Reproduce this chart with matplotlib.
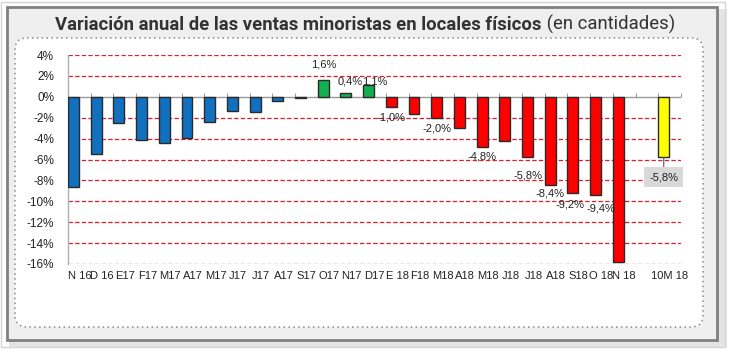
import matplotlib
matplotlib.use('Agg')
import matplotlib.pyplot as plt
import numpy as np
from matplotlib.patches import FancyBboxPatch, Rectangle

# ---------------- data ----------------
categories = ['N 16', 'D 16', 'E17', 'F17', 'M17', 'A17', 'M17', 'J17', 'J17', 'A17',
              'S17', 'O17', 'N17', 'D17', 'E 18', 'F18', 'M18', 'A18', 'M18', 'J18',
              'J18', 'A18', 'S18', 'O 18', 'N 18', '', '10M 18']
values = [-8.6, -5.5, -2.5, -4.1, -4.4, -3.9, -2.4, -1.4, -1.5, -0.4,
          -0.15, 1.6, 0.4, 1.1, -1.0, -1.6, -2.0, -3.0, -4.8, -4.2,
          -5.8, -8.4, -9.2, -9.4, -15.8, None, -5.8]
labeled_idx = [11, 12, 13, 14, 16, 18, 20, 21, 22, 23]
summary_idx = 26
yticks = list(range(4, -17, -2))

# ---------------- style ----------------
BLUE, GREEN, RED, YELLOW = '#1170C0', '#14B050', '#FF0000', '#FFFF00'
bar_colors = [BLUE] * 11 + [GREEN] * 3 + [RED] * 11 + [None] + [YELLOW]
# label offsets in pixels (dx, dy)
label_off = {11: (1, 16), 12: (4, 11), 13: (6, 4), 14: (0, -10), 16: (0, -11),
             18: (0, -10), 20: (0, -18), 21: (0, -9), 22: (-3, -12), 23: (5, -13)}

W, H = 729, 351
fig = plt.figure(figsize=(W / 100, H / 100), dpi=100)
fig.patch.set_facecolor('white')

# background / frame axes in pixel coordinates
bg = fig.add_axes([0, 0, 1, 1], zorder=0)
bg.set_xlim(0, W)
bg.set_ylim(H, 0)
bg.axis('off')
bg.add_patch(Rectangle((9, 9), 718, 338, facecolor='#e4e4e4', edgecolor='none'))
bg.add_patch(Rectangle((1.5, 1.5), 724, 345, facecolor='none', edgecolor='#d6d6d6', lw=1))
bg.add_patch(Rectangle((7, 7), 710, 333, facecolor='#efefef', edgecolor='#808080', lw=2))
bg.add_patch(FancyBboxPatch((15, 38), 688, 289, boxstyle='round,pad=0,rounding_size=12',
                            facecolor='white', edgecolor='#8a8a8a', lw=1.1,
                            linestyle=(0, (1, 2.2))))

# title (bold + regular parts)
title_family = ['Liberation Sans Narrow', 'Roboto', 'DejaVu Sans']
t1 = bg.text(0, 24.5, 'Variación anual de las ventas minoristas en locales físicos',
             fontsize=13.3, fontweight='bold', color='#333333', family=title_family,
             va='center', ha='left')
t2 = bg.text(0, 24.5, ' (en cantidades)', fontsize=13.3, color='#333333',
             family=title_family, va='center', ha='left')
fig.canvas.draw()
r = fig.canvas.get_renderer()
w1 = t1.get_window_extent(r).width
w2 = t2.get_window_extent(r).width
x0 = 365 - (w1 + w2) / 2
t1.set_x(x0)
t2.set_x(x0 + w1)

# ---------------- chart ----------------
ax = fig.add_axes([68 / W, 1 - 264 / H, 613 / W, 209 / H], zorder=2)
ax.patch.set_visible(False)
n = len(categories)
x = np.arange(n)
ax.set_xlim(-0.5, n - 0.5)
ax.set_ylim(-16, 4)

bw = 0.48
for i, v in enumerate(values):
    if v is None:
        continue
    ax.bar(x[i] - 0.5, v, width=bw, align='edge', color=bar_colors[i],
           edgecolor='#2a2a2a', linewidth=1.0, zorder=3)

# gridlines
for yt in yticks:
    if yt == 0:
        continue
    ax.axhline(yt, color='#dc1f2a', lw=0.9, ls=(0, (3.5, 1.8)), zorder=1)
ax.axhline(0, color='#9a9a9a', lw=1.0, zorder=2)

ax.set_yticks(yticks)
ax.set_yticklabels([f'{t}%' for t in yticks], fontsize=8.5, color='#222222',
                   family=['Liberation Sans', 'DejaVu Sans'])
ax.set_xticks(x)
ax.set_xticklabels(categories, fontsize=8, color='#222222',
                   family=['Liberation Sans', 'DejaVu Sans'])
ax.tick_params(axis='x', length=0, pad=5)
ax.tick_params(axis='y', length=0, pad=10)
for s in ['top', 'right', 'bottom']:
    ax.spines[s].set_visible(False)
ax.spines['left'].set_color('#b0b0b0')
ax.spines['left'].set_linewidth(1.0)

# small tick marks on the zero axis at category boundaries
sec = ax.secondary_xaxis(0.8)
sec.set_xticks(np.arange(-0.5, n + 0.5, 1))
sec.tick_params(length=3, color='#9a9a9a', labelbottom=False, labeltop=False,
                direction='out')
for s in sec.spines.values():
    s.set_visible(False)

# data labels
def fmt(v):
    return f'{v:.1f}%'.replace('.', ',')

for i in labeled_idx:
    v = values[i]
    dx, dy = label_off[i]
    ax.annotate(fmt(v), xy=(x[i] - 0.5 + bw / 2, v), xytext=(dx * 0.72, dy * 0.72),
                textcoords='offset points', ha='center', va='center', fontsize=8,
                color='#222222', family=['Liberation Sans', 'DejaVu Sans'], zorder=5)

# summary bar label with grey box and leader line
vs = values[summary_idx]
ax.annotate(fmt(vs), xy=(x[summary_idx] - 0.5 + bw / 2, vs), xytext=(0, -20 * 0.72),
            textcoords='offset points', ha='center', va='center', fontsize=8,
            color='#222222', family=['Liberation Sans', 'DejaVu Sans'], zorder=5,
            bbox=dict(boxstyle='square,pad=0.45', facecolor='#d9d9d9', edgecolor='none'),
            arrowprops=dict(arrowstyle='-', color='#555555', lw=0.8, shrinkA=0, shrinkB=0))

fig.savefig('out.png', dpi=100)
